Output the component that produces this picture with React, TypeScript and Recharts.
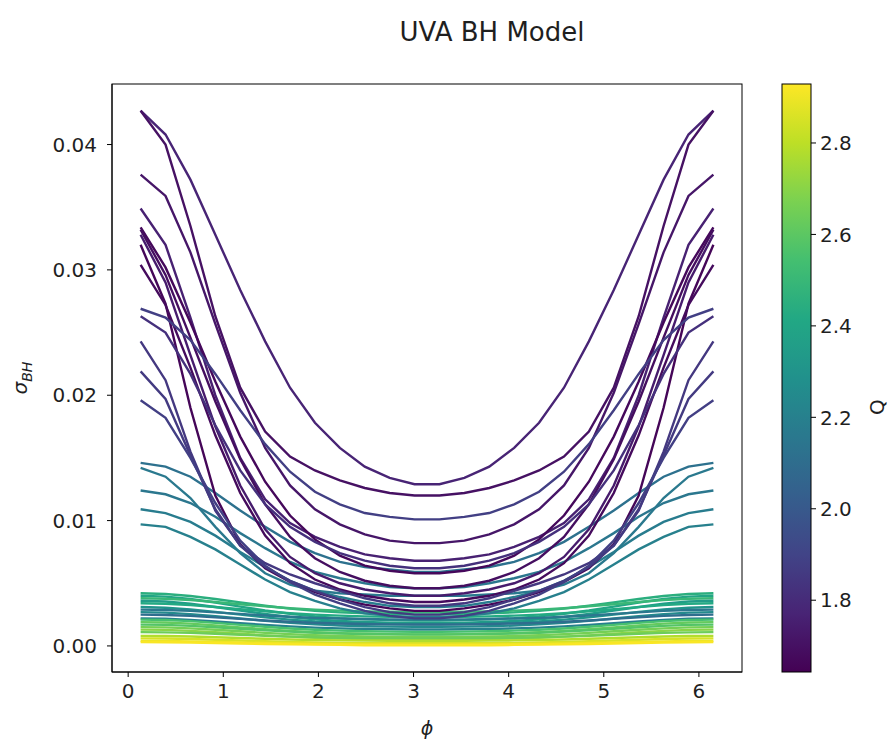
import React from "react";
import { LineChart, Line, XAxis, YAxis, Label } from "recharts";

// phi grid (24 bins, symmetric around pi)
const phiValues = [
  0.1309, 0.3927, 0.6545, 0.9163, 1.1781, 1.4399, 1.7017, 1.9635, 2.2253, 2.4871, 2.7489, 3.0107,
  3.2725, 3.5343, 3.7961, 4.0579, 4.3197, 4.5815, 4.8433, 5.1051, 5.3669, 5.6287, 5.8905, 6.1523,
];

// low-Q curves (purple / blue)
const purpleCurves: number[][] = [
  [0.0427, 0.0408, 0.0372, 0.0328, 0.0284, 0.0243, 0.0206, 0.0178, 0.0158, 0.0143, 0.0134, 0.0129, 0.0129, 0.0134, 0.0143, 0.0158, 0.0178, 0.0206, 0.0243, 0.0284, 0.0328, 0.0372, 0.0408, 0.0427],
  [0.0427, 0.04, 0.0335, 0.0263, 0.0206, 0.0171, 0.0151, 0.014, 0.0132, 0.0126, 0.0122, 0.012, 0.012, 0.0122, 0.0126, 0.0132, 0.014, 0.0151, 0.0171, 0.0206, 0.0263, 0.0335, 0.04, 0.0427],
  [0.0376, 0.0359, 0.0314, 0.0257, 0.0202, 0.0158, 0.0128, 0.0109, 0.0097, 0.0089, 0.0084, 0.0082, 0.0082, 0.0084, 0.0089, 0.0097, 0.0109, 0.0128, 0.0158, 0.0202, 0.0257, 0.0314, 0.0359, 0.0376],
  [0.0349, 0.032, 0.0262, 0.02, 0.015, 0.0117, 0.0098, 0.0087, 0.0079, 0.0073, 0.007, 0.0068, 0.0068, 0.007, 0.0073, 0.0079, 0.0087, 0.0098, 0.0117, 0.015, 0.02, 0.0262, 0.032, 0.0349],
  [0.0334, 0.0302, 0.0258, 0.0211, 0.0167, 0.0131, 0.0104, 0.0085, 0.0072, 0.0064, 0.006, 0.0058, 0.0058, 0.006, 0.0064, 0.0072, 0.0085, 0.0104, 0.0131, 0.0167, 0.0211, 0.0258, 0.0302, 0.0334],
  [0.0332, 0.0296, 0.0246, 0.0195, 0.0149, 0.0113, 0.0087, 0.007, 0.0059, 0.0052, 0.0048, 0.0046, 0.0046, 0.0048, 0.0052, 0.0059, 0.007, 0.0087, 0.0113, 0.0149, 0.0195, 0.0246, 0.0296, 0.0332],
  [0.0328, 0.029, 0.0232, 0.0175, 0.0128, 0.0093, 0.0071, 0.0058, 0.005, 0.0045, 0.0042, 0.004, 0.004, 0.0042, 0.0045, 0.005, 0.0058, 0.0071, 0.0093, 0.0128, 0.0175, 0.0232, 0.029, 0.0328],
  [0.032, 0.0273, 0.019, 0.012, 0.0081, 0.0062, 0.0051, 0.0043, 0.0037, 0.0033, 0.003, 0.0028, 0.0028, 0.003, 0.0033, 0.0037, 0.0043, 0.0051, 0.0062, 0.0081, 0.012, 0.019, 0.0273, 0.032],
  [0.0304, 0.0272, 0.0222, 0.0168, 0.0122, 0.0088, 0.0066, 0.0053, 0.0045, 0.004, 0.0037, 0.0035, 0.0035, 0.0037, 0.004, 0.0045, 0.0053, 0.0066, 0.0088, 0.0122, 0.0168, 0.0222, 0.0272, 0.0304],
  [0.0269, 0.0262, 0.0244, 0.0217, 0.0188, 0.0161, 0.0139, 0.0123, 0.0113, 0.0106, 0.0103, 0.0101, 0.0101, 0.0103, 0.0106, 0.0113, 0.0123, 0.0139, 0.0161, 0.0188, 0.0217, 0.0244, 0.0262, 0.0269],
  [0.0263, 0.025, 0.0217, 0.0176, 0.014, 0.0113, 0.0095, 0.0083, 0.0074, 0.0068, 0.0064, 0.0062, 0.0062, 0.0064, 0.0068, 0.0074, 0.0083, 0.0095, 0.0113, 0.014, 0.0176, 0.0217, 0.025, 0.0263],
  [0.0243, 0.0212, 0.0155, 0.0108, 0.008, 0.0066, 0.0057, 0.005, 0.0044, 0.0038, 0.0034, 0.0032, 0.0032, 0.0034, 0.0038, 0.0044, 0.005, 0.0057, 0.0066, 0.008, 0.0108, 0.0155, 0.0212, 0.0243],
  [0.0219, 0.0197, 0.0152, 0.0109, 0.008, 0.0063, 0.0052, 0.0044, 0.0037, 0.0031, 0.0027, 0.0025, 0.0025, 0.0027, 0.0031, 0.0037, 0.0044, 0.0052, 0.0063, 0.008, 0.0109, 0.0152, 0.0197, 0.0219],
  [0.0196, 0.0182, 0.015, 0.0114, 0.0084, 0.0064, 0.0051, 0.0041, 0.0034, 0.0028, 0.0024, 0.0022, 0.0022, 0.0024, 0.0028, 0.0034, 0.0041, 0.0051, 0.0064, 0.0084, 0.0114, 0.015, 0.0182, 0.0196],
];
const purpleQ = [1.77, 1.7, 1.72, 1.76, 1.67, 1.69, 1.74, 1.66, 1.68, 1.88, 1.82, 1.85, 1.86, 1.88];

// mid-Q curves (teal)
const tealCurves: number[][] = [
  [0.0146, 0.0143, 0.0135, 0.0122, 0.0108, 0.0095, 0.0083, 0.0074, 0.0067, 0.0063, 0.0061, 0.0059, 0.0059, 0.0061, 0.0063, 0.0067, 0.0074, 0.0083, 0.0095, 0.0108, 0.0122, 0.0135, 0.0143, 0.0146],
  [0.0142, 0.0135, 0.0118, 0.0095, 0.0074, 0.0058, 0.0049, 0.0044, 0.0042, 0.0041, 0.004, 0.004, 0.004, 0.004, 0.0041, 0.0042, 0.0044, 0.0049, 0.0058, 0.0074, 0.0095, 0.0118, 0.0135, 0.0142],
  [0.0124, 0.0121, 0.0114, 0.0103, 0.009, 0.0078, 0.0067, 0.0059, 0.0054, 0.005, 0.0047, 0.0046, 0.0046, 0.0047, 0.005, 0.0054, 0.0059, 0.0067, 0.0078, 0.009, 0.0103, 0.0114, 0.0121, 0.0124],
  [0.0109, 0.0106, 0.0099, 0.0088, 0.0075, 0.0063, 0.0052, 0.0044, 0.0039, 0.0035, 0.0032, 0.0031, 0.0031, 0.0032, 0.0035, 0.0039, 0.0044, 0.0052, 0.0063, 0.0075, 0.0088, 0.0099, 0.0106, 0.0109],
  [0.0097, 0.0095, 0.0087, 0.0077, 0.0065, 0.0053, 0.0043, 0.0036, 0.003, 0.0026, 0.0024, 0.0023, 0.0023, 0.0024, 0.0026, 0.003, 0.0036, 0.0043, 0.0053, 0.0065, 0.0077, 0.0087, 0.0095, 0.0097],
];
const tealQ = [2.12, 2.16, 2.15, 2.18, 2.2];

// high-Q curves (flat band near zero)
const bandCurves: number[][] = [
  [0.0042, 0.00414, 0.00398, 0.00374, 0.00347, 0.00321, 0.00298, 0.00281, 0.00268, 0.0026, 0.00255, 0.00252, 0.00252, 0.00255, 0.0026, 0.00268, 0.00281, 0.00298, 0.00321, 0.00347, 0.00374, 0.00398, 0.00414, 0.0042],
  [0.004, 0.00393, 0.00374, 0.00346, 0.00314, 0.00283, 0.00257, 0.00236, 0.00221, 0.00212, 0.00206, 0.00203, 0.00203, 0.00206, 0.00212, 0.00221, 0.00236, 0.00257, 0.00283, 0.00314, 0.00346, 0.00374, 0.00393, 0.004],
  [0.0038, 0.00376, 0.00366, 0.0035, 0.00333, 0.00316, 0.00301, 0.0029, 0.00282, 0.00276, 0.00273, 0.00272, 0.00272, 0.00273, 0.00276, 0.00282, 0.0029, 0.00301, 0.00316, 0.00333, 0.0035, 0.00366, 0.00376, 0.0038],
  [0.0036, 0.00354, 0.00336, 0.00311, 0.00283, 0.00255, 0.00231, 0.00212, 0.00199, 0.00191, 0.00185, 0.00183, 0.00183, 0.00185, 0.00191, 0.00199, 0.00212, 0.00231, 0.00255, 0.00283, 0.00311, 0.00336, 0.00354, 0.0036],
  [0.0034, 0.00336, 0.00326, 0.0031, 0.00293, 0.00276, 0.00261, 0.0025, 0.00242, 0.00236, 0.00233, 0.00232, 0.00232, 0.00233, 0.00236, 0.00242, 0.0025, 0.00261, 0.00276, 0.00293, 0.0031, 0.00326, 0.00336, 0.0034],
  [0.0031, 0.00305, 0.00292, 0.00272, 0.0025, 0.00228, 0.0021, 0.00195, 0.00185, 0.00178, 0.00174, 0.00172, 0.00172, 0.00174, 0.00178, 0.00185, 0.00195, 0.0021, 0.00228, 0.0025, 0.00272, 0.00292, 0.00305, 0.0031],
  [0.0029, 0.00287, 0.0028, 0.00268, 0.00256, 0.00243, 0.00233, 0.00224, 0.00219, 0.00215, 0.00212, 0.00211, 0.00211, 0.00212, 0.00215, 0.00219, 0.00224, 0.00233, 0.00243, 0.00256, 0.00268, 0.0028, 0.00287, 0.0029],
  [0.0027, 0.00266, 0.00254, 0.00238, 0.00219, 0.002, 0.00184, 0.00172, 0.00163, 0.00157, 0.00154, 0.00152, 0.00152, 0.00154, 0.00157, 0.00163, 0.00172, 0.00184, 0.002, 0.00219, 0.00238, 0.00254, 0.00266, 0.0027],
  [0.0025, 0.00247, 0.0024, 0.00228, 0.00216, 0.00203, 0.00193, 0.00184, 0.00179, 0.00175, 0.00172, 0.00171, 0.00171, 0.00172, 0.00175, 0.00179, 0.00184, 0.00193, 0.00203, 0.00216, 0.00228, 0.0024, 0.00247, 0.0025],
  [0.0022, 0.00217, 0.00208, 0.00196, 0.00181, 0.00168, 0.00156, 0.00146, 0.0014, 0.00135, 0.00133, 0.00131, 0.00131, 0.00133, 0.00135, 0.0014, 0.00146, 0.00156, 0.00168, 0.00181, 0.00196, 0.00208, 0.00217, 0.0022],
  [0.0021, 0.00207, 0.00198, 0.00184, 0.00168, 0.00153, 0.00139, 0.00129, 0.00122, 0.00117, 0.00114, 0.00112, 0.00112, 0.00114, 0.00117, 0.00122, 0.00129, 0.00139, 0.00153, 0.00168, 0.00184, 0.00198, 0.00207, 0.0021],
  [0.0019, 0.00187, 0.00178, 0.00164, 0.00148, 0.00133, 0.00119, 0.00109, 0.00102, 0.00097, 0.00094, 0.00092, 0.00092, 0.00094, 0.00097, 0.00102, 0.00109, 0.00119, 0.00133, 0.00148, 0.00164, 0.00178, 0.00187, 0.0019],
  [0.0017, 0.00168, 0.0016, 0.00149, 0.00137, 0.00124, 0.00114, 0.00105, 0.00099, 0.00095, 0.00092, 0.00091, 0.00091, 0.00092, 0.00095, 0.00099, 0.00105, 0.00114, 0.00124, 0.00137, 0.00149, 0.0016, 0.00168, 0.0017],
  [0.0015, 0.00148, 0.0014, 0.00129, 0.00117, 0.00104, 0.00094, 0.00085, 0.00079, 0.00075, 0.00072, 0.00071, 0.00071, 0.00072, 0.00075, 0.00079, 0.00085, 0.00094, 0.00104, 0.00117, 0.00129, 0.0014, 0.00148, 0.0015],
  [0.0013, 0.00128, 0.0012, 0.00109, 0.00097, 0.00084, 0.00074, 0.00065, 0.00059, 0.00055, 0.00052, 0.00051, 0.00051, 0.00052, 0.00055, 0.00059, 0.00065, 0.00074, 0.00084, 0.00097, 0.00109, 0.0012, 0.00128, 0.0013],
  [0.0011, 0.00108, 0.00104, 0.00097, 0.00089, 0.00081, 0.00074, 0.00069, 0.00065, 0.00063, 0.00062, 0.00061, 0.00061, 0.00062, 0.00063, 0.00065, 0.00069, 0.00074, 0.00081, 0.00089, 0.00097, 0.00104, 0.00108, 0.0011],
  [0.0008, 0.00079, 0.00075, 0.00069, 0.00063, 0.00057, 0.00051, 0.00047, 0.00044, 0.00042, 0.00041, 0.00041, 0.00041, 0.00041, 0.00042, 0.00044, 0.00047, 0.00051, 0.00057, 0.00063, 0.00069, 0.00075, 0.00079, 0.0008],
  [0.0006, 0.00059, 0.00055, 0.00049, 0.00043, 0.00037, 0.00031, 0.00027, 0.00024, 0.00022, 0.00021, 0.00021, 0.00021, 0.00021, 0.00022, 0.00024, 0.00027, 0.00031, 0.00037, 0.00043, 0.00049, 0.00055, 0.00059, 0.0006],
  [0.0004, 0.00039, 0.00036, 0.00032, 0.00027, 0.00023, 0.00019, 0.00015, 0.00013, 0.00012, 0.00011, 0.0001, 0.0001, 0.00011, 0.00012, 0.00013, 0.00015, 0.00019, 0.00023, 0.00027, 0.00032, 0.00036, 0.00039, 0.0004],
  [0.0003, 0.00029, 0.00027, 0.00023, 0.00019, 0.00015, 0.00012, 0.0001, 0.00008, 0.00006, 0.00006, 0.00005, 0.00005, 0.00006, 0.00006, 0.00008, 0.0001, 0.00012, 0.00015, 0.00019, 0.00023, 0.00027, 0.00029, 0.0003],
];
const bandQ = [2.45, 2.4, 2.5, 2.35, 2.42, 2.3, 2.15, 2.25, 2.1, 2.2, 2.55, 2.62, 2.58, 2.66, 2.7, 2.64, 2.78, 2.85, 2.9, 2.92];

const xTicks = [0, 1, 2, 3, 4, 5, 6];
const yTicks = [0, 0.01, 0.02, 0.03, 0.04];
const qTicks = [1.8, 2.0, 2.2, 2.4, 2.6, 2.8];
const Q_MIN = 1.643;
const Q_MAX = 2.929;

const VIRIDIS = [
  "#440154", "#482475", "#414487", "#355f8d", "#2a788e", "#21918c",
  "#22a884", "#44bf70", "#7ad151", "#bddf26", "#fde725",
];

function hexToRgb(h: string) {
  return [parseInt(h.slice(1, 3), 16), parseInt(h.slice(3, 5), 16), parseInt(h.slice(5, 7), 16)];
}

function viridis(q: number) {
  const t = Math.max(0, Math.min(1, (q - Q_MIN) / (Q_MAX - Q_MIN)));
  const pos = t * (VIRIDIS.length - 1);
  const i = Math.min(VIRIDIS.length - 2, Math.floor(pos));
  const f = pos - i;
  const a = hexToRgb(VIRIDIS[i]);
  const b = hexToRgb(VIRIDIS[i + 1]);
  const c = a.map((v, k) => Math.round(v + (b[k] - v) * f));
  return `rgb(${c[0]},${c[1]},${c[2]})`;
}

const allCurves = [...bandCurves, ...tealCurves, ...purpleCurves];
const allQ = [...bandQ, ...tealQ, ...purpleQ];

const rows = phiValues.map((phi, i) => {
  const row: Record<string, number> = { phi };
  allCurves.forEach((curve, k) => {
    row[`c${k}`] = curve[i];
  });
  return row;
});

const FONT = "'DejaVu Sans', sans-serif";
const TEXT = "#1f1f1f";
const tickStyle = { fontSize: 20, fill: TEXT, fontFamily: FONT };

// plot box in page pixels
const PLOT = { left: 112, top: 84, width: 630, height: 588 };
const CBAR = { left: 782, width: 29 };

function Colorbar() {
  const qToY = (q: number) => PLOT.top + PLOT.height - ((q - Q_MIN) / (Q_MAX - Q_MIN)) * PLOT.height;
  const x1 = CBAR.left + CBAR.width;
  return (
    <svg
      width={892}
      height={743}
      style={{ position: "absolute", left: 0, top: 0, pointerEvents: "none" }}
    >
      <defs>
        <linearGradient id="viridisGrad" x1="0" y1="1" x2="0" y2="0">
          {VIRIDIS.map((c, i) => (
            <stop key={c} offset={`${(i / (VIRIDIS.length - 1)) * 100}%`} stopColor={c} />
          ))}
        </linearGradient>
      </defs>
      <rect
        x={CBAR.left}
        y={PLOT.top}
        width={CBAR.width}
        height={PLOT.height}
        fill="url(#viridisGrad)"
        stroke="#000"
        strokeWidth={1}
      />
      {qTicks.map((q) => (
        <g key={q}>
          <line x1={x1} x2={x1 + 5} y1={qToY(q)} y2={qToY(q)} stroke="#000" />
          <text
            x={x1 + 9}
            y={qToY(q)}
            dy="0.36em"
            fontSize={20}
            fontFamily={FONT}
            fill={TEXT}
          >
            {q.toFixed(1)}
          </text>
        </g>
      ))}
      <text
        x={884}
        y={407}
        transform="rotate(-90 884 407)"
        textAnchor="middle"
        fontSize={20}
        fontFamily={FONT}
        fill={TEXT}
      >
        Q
      </text>
      <rect
        x={PLOT.left}
        y={PLOT.top}
        width={PLOT.width}
        height={PLOT.height}
        fill="none"
        stroke="#000"
        strokeWidth={1}
      />
    </svg>
  );
}

export default function App() {
  return (
    <div
      style={{
        position: "absolute",
        left: 0,
        top: 0,
        width: 892,
        height: 743,
        background: "#fff",
        fontFamily: FONT,
      }}
    >
      <div
        style={{
          position: "absolute",
          left: 0,
          width: 984,
          top: 17,
          textAlign: "center",
          fontSize: 26,
          lineHeight: "30px",
          color: TEXT,
        }}
      >
        UVA BH Model
      </div>

      <div style={{ position: "absolute", left: 0, top: 0 }}>
        <LineChart
          width={760}
          height={743}
          data={rows}
          margin={{ top: PLOT.top, right: 760 - PLOT.left - PLOT.width, bottom: 0, left: 0 }}
        >
          <XAxis
            dataKey="phi"
            type="number"
            domain={[-0.17, 6.453]}
            ticks={xTicks}
            allowDataOverflow
            height={743 - PLOT.top - PLOT.height}
            tickSize={5}
            tickMargin={7}
            tick={tickStyle}
            stroke="#000"
            tickLine={{ stroke: "#000" }}
          >
            <Label
              content={({ viewBox }: any) => (
                <text
                  x={viewBox.x + viewBox.width / 2}
                  y={735}
                  textAnchor="middle"
                  fontSize={19}
                  fontStyle="italic"
                  fontFamily={FONT}
                  fill={TEXT}
                >
                  ϕ
                </text>
              )}
            />
          </XAxis>
          <YAxis
            type="number"
            domain={[-0.00208, 0.04483]}
            ticks={yTicks}
            allowDataOverflow
            width={PLOT.left}
            tickSize={5}
            tickMargin={10}
            tick={tickStyle}
            tickFormatter={(v: number) => v.toFixed(2)}
            stroke="#000"
            tickLine={{ stroke: "#000" }}
          >
            <Label
              content={() => {
                const cx = 27;
                const cy = 378;
                return (
                  <text
                    x={cx}
                    y={cy}
                    transform={`rotate(-90 ${cx} ${cy})`}
                    textAnchor="middle"
                    fontSize={20}
                    fontFamily={FONT}
                    fontStyle="italic"
                    fill={TEXT}
                  >
                    σ
                    <tspan fontSize={14} dy={5}>
                      BH
                    </tspan>
                  </text>
                );
              }}
            />
          </YAxis>
          {allCurves.map((_, k) => (
            <Line
              key={k}
              dataKey={`c${k}`}
              type="linear"
              stroke={viridis(allQ[k])}
              strokeWidth={2.4}
              dot={false}
              isAnimationActive={false}
            />
          ))}
        </LineChart>
      </div>

      <Colorbar />
    </div>
  );
}
